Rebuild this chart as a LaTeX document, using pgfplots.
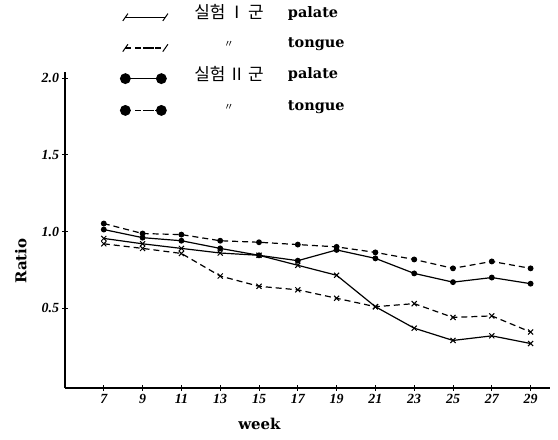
\documentclass[border=0pt]{standalone}
\usepackage{fontspec}
\setmainfont{DejaVu Serif}
\newfontfamily\krfont{Noto Sans CJK KR}
\newfontfamily\numfont{Liberation Serif}
\usepackage{pgfplots}
\pgfplotsset{compat=1.18}

\pgfplotsset{
  % legend sample: mark, gap, short line, mark
  xleg/.style={legend image code/.code={
    \draw[##1, mark=none, #1] (18bp,0) -- (38bp,0);
    \path[##1, mark=|, mark size=4.5bp, mark options={solid, line width=1bp, rotate=-35}]
      plot coordinates {(0bp,0) (40bp,0)};
  }},
  xleg/.default={solid},
  dotleg/.style={legend image code/.code={
    \draw[##1, mark=none, #1] (18bp,0) -- (36bp,0);
    \path[##1, mark size=4.8bp, mark options={solid}]
      plot coordinates {(0bp,0) (36bp,0)};
  }},
  dotleg/.default={solid},
}
\newcommand\kr[1]{\makebox[84bp][c]{\raisebox{-1.5bp}{\mdseries\krfont\fontsize{17}{17}\selectfont #1}}}
\newcommand\ditto{\makebox[84bp][c]{\mdseries\krfont\fontsize{10}{10}\selectfont 〃}}

\begin{document}
\begin{tikzpicture}
\useasboundingbox (-65bp,-52bp) rectangle (493bp,388bp);
\begin{axis}[
  scale only axis, width=485bp, height=316bp,
  at={(0,0)}, anchor=south west,
  xmin=5, xmax=30, ymin=-0.02, ymax=2.04,
  axis x line*=bottom, axis y line*=left,
  axis line style={line width=1.4bp},
  xtick={7,9,...,29}, ytick={0.5,1.0,1.5,2.0},
  tick align=center, major tick length=5bp,
  tick style={line width=1bp, black},
  /pgf/number format/assume math mode=true,
  tick label style={font=\numfont\bfseries\itshape\fontsize{14}{14}\selectfont},
  yticklabel style={/pgf/number format/.cd, fixed, fixed zerofill, precision=1},
  xlabel={week}, ylabel={Ratio},
  label style={font=\bfseries\fontsize{15}{15}\selectfont},
  xlabel style={at={(axis description cs:0.401,-0.114)}, anchor=center},
  ylabel style={at={(axis description cs:-0.091,0.402)}, anchor=center},
  legend style={at={(axis description cs:0.108,1.215)}, anchor=north west,
    draw=none, fill=none, row sep=16bp, column sep=0pt,
    nodes={inner sep=0pt, text height=11bp, text depth=3bp, anchor=base west},
    font=\bfseries\fontsize{14.5}{14.5}\selectfont},
  legend cell align=left,
  every axis plot/.append style={black, line width=1.2bp},
]
% group I, palate
\addplot[xleg, mark=x, mark size=3.6bp, mark options={solid, line width=1bp}]
  coordinates {(7,0.955) (9,0.92) (11,0.89) (13,0.86) (15,0.845) (17,0.78)
               (19,0.715) (21,0.51) (23,0.37) (25,0.29) (27,0.32) (29,0.27)};
\addlegendentry{\hspace{19bp}\kr{실험\,Ⅰ\,군}\hspace{17bp}palate}
% group I, tongue
\addplot[xleg={dash pattern=on 4bp off 3bp}, dash pattern=on 6bp off 4bp, mark=x, mark size=3.6bp, mark options={solid, line width=1bp}]
  coordinates {(7,0.92) (9,0.89) (11,0.857) (13,0.71) (15,0.643) (17,0.62)
               (19,0.565) (21,0.51) (23,0.53) (25,0.44) (27,0.45) (29,0.345)};
\addlegendentry{\hspace{19bp}\ditto\hspace{17bp}tongue}
% group II, palate
\addplot[dotleg, mark=*, mark size=2.3bp, mark options={solid}]
  coordinates {(7,1.013) (9,0.96) (11,0.94) (13,0.89) (15,0.845) (17,0.81)
               (19,0.88) (21,0.825) (23,0.727) (25,0.67) (27,0.70) (29,0.66)};
\addlegendentry{\hspace{19bp}\kr{실험\,Ⅱ\,군}\hspace{17bp}palate}
% group II, tongue
\addplot[dotleg={dash pattern=on 4bp off 3bp}, dash pattern=on 6bp off 4bp, mark=*, mark size=2.3bp, mark options={solid}]
  coordinates {(7,1.052) (9,0.987) (11,0.98) (13,0.94) (15,0.93) (17,0.915)
               (19,0.90) (21,0.864) (23,0.818) (25,0.76) (27,0.805) (29,0.76)};
\addlegendentry{\hspace{19bp}\ditto\hspace{17bp}tongue}
\end{axis}
\end{tikzpicture}
\end{document}
